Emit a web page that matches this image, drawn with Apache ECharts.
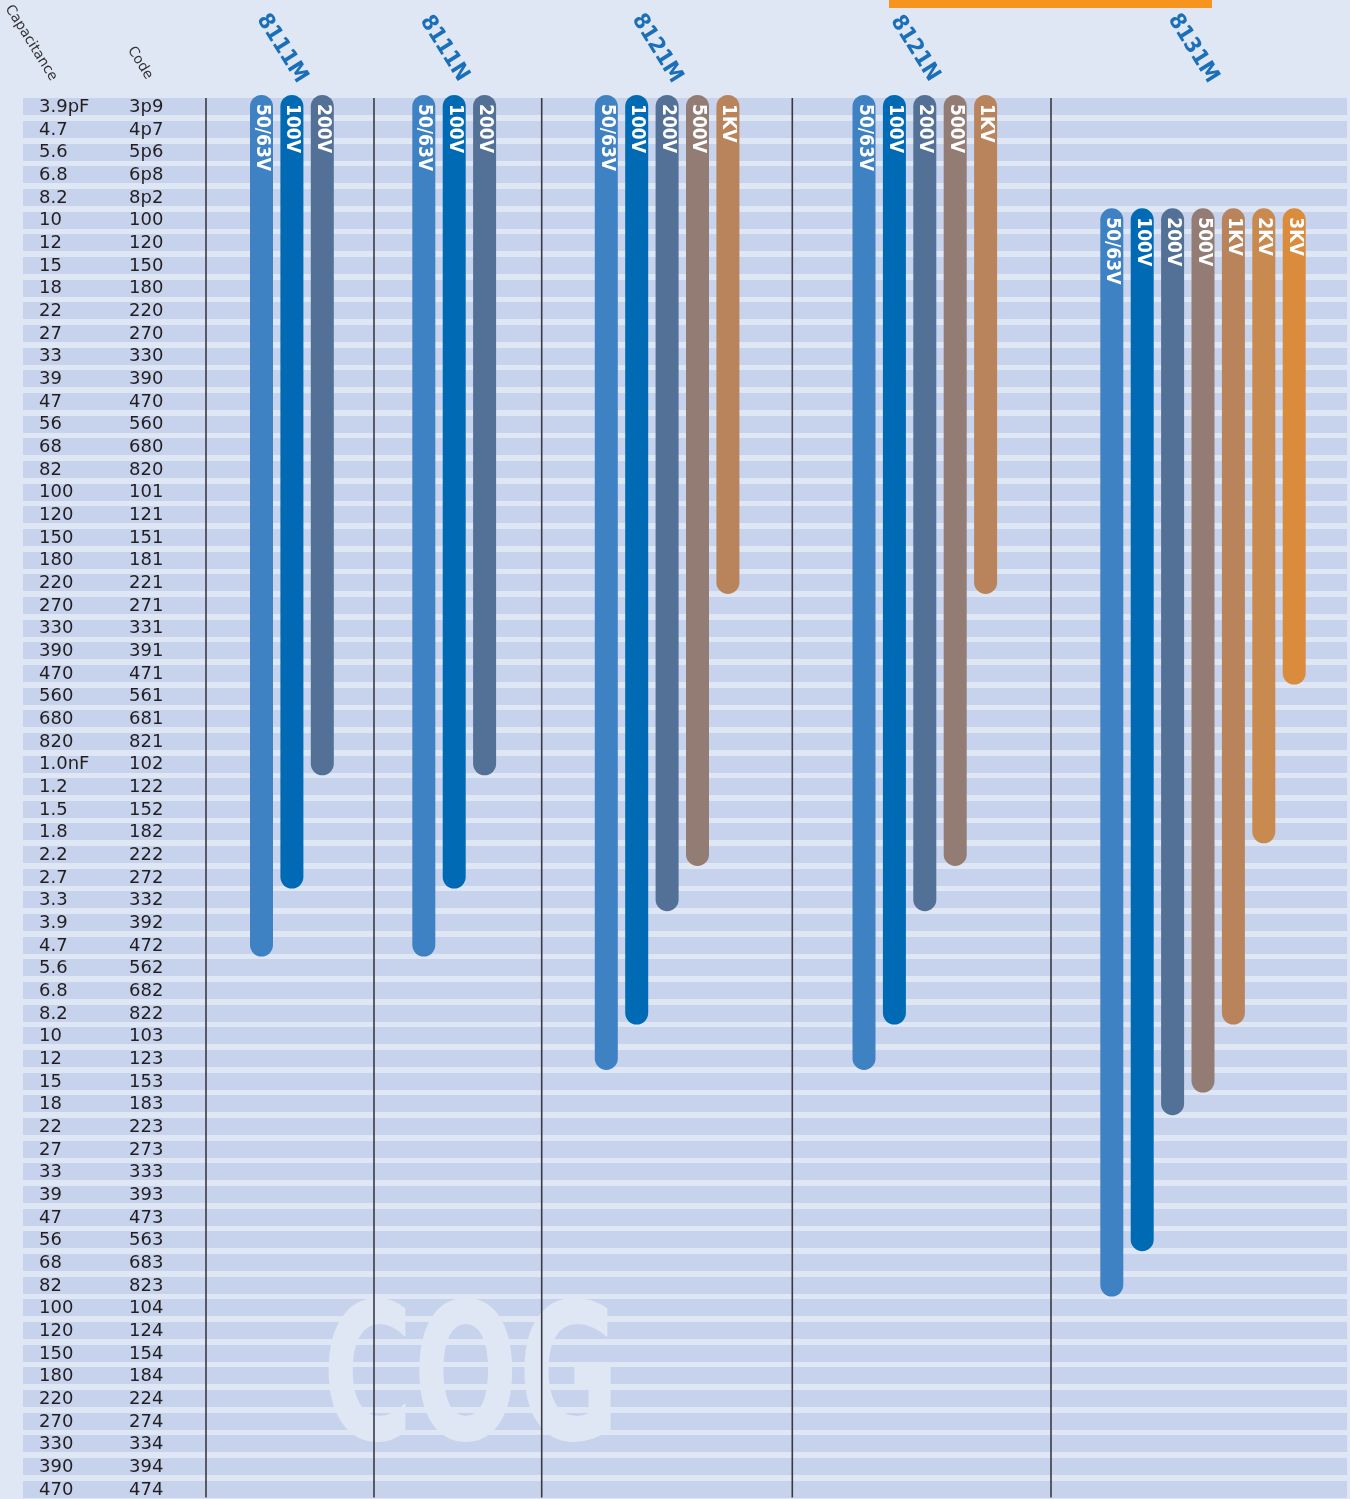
<!DOCTYPE html>
<html>
<head>
<meta charset="utf-8">
<script src="https://cdn.jsdelivr.net/npm/echarts@6/dist/echarts.min.js"></script>
<style>
  html, body { margin: 0; padding: 0; background: #dfe7f5; }
  #chart { width: 1350px; height: 1499px; }
</style>
</head>
<body>
<div id="chart"></div>
<script>
// rows (top to bottom)
const capacitance = ['3.9pF','4.7','5.6','6.8','8.2','10','12','15','18','22','27','33','39','47','56','68','82',
  '100','120','150','180','220','270','330','390','470','560','680','820',
  '1.0nF','1.2','1.5','1.8','2.2','2.7','3.3','3.9','4.7','5.6','6.8','8.2',
  '10','12','15','18','22','27','33','39','47','56','68','82',
  '100','120','150','180','220','270','330','390','470'];
const codes = ['3p9','4p7','5p6','6p8','8p2','100','120','150','180','220','270','330','390','470','560','680','820',
  '101','121','151','181','221','271','331','391','471','561','681','821',
  '102','122','152','182','222','272','332','392','472','562','682','822',
  '103','123','153','183','223','273','333','393','473','563','683','823',
  '104','124','154','184','224','274','334','394','474'];

// ranges per series: voltage, first code, last code
const groups = ['8111M', '8111N', '8121M', '8121N', '8131M'];
const volts8111M = ['50/63V', '100V', '200V'];
const from8111M = ['3p9', '3p9', '3p9'];
const to8111M = ['472', '272', '102'];
const volts8111N = ['50/63V', '100V', '200V'];
const from8111N = ['3p9', '3p9', '3p9'];
const to8111N = ['472', '272', '102'];
const volts8121M = ['50/63V', '100V', '200V', '500V', '1KV'];
const from8121M = ['3p9', '3p9', '3p9', '3p9', '3p9'];
const to8121M = ['123', '822', '332', '222', '221'];
const volts8121N = ['50/63V', '100V', '200V', '500V', '1KV'];
const from8121N = ['3p9', '3p9', '3p9', '3p9', '3p9'];
const to8121N = ['123', '822', '332', '222', '221'];
const volts8131M = ['50/63V', '100V', '200V', '500V', '1KV', '2KV', '3KV'];
const from8131M = ['100', '100', '100', '100', '100', '100', '100'];
const to8131M = ['823', '563', '183', '153', '822', '182', '471'];

const voltColors = {
  '50/63V': '#3f82c4', '100V': '#006bb4', '200V': '#537096', '500V': '#937c74',
  '1KV': '#b9845b', '2KV': '#c98a50', '3KV': '#db8b3c'
};

// layout (x axis runs in pixels across the grid)
const firstBarX = [238.5, 400.8, 583.3, 841, 1088.8];
const dividerX = [183, 351, 518.7, 769.3, 1028];
const barStep = 30.4;
const half = 11.5;

const volts = [volts8111M, volts8111N, volts8121M, volts8121N, volts8131M];
const froms = [from8111M, from8111N, from8121M, from8121N, from8131M];
const tos = [to8111M, to8111N, to8121M, to8121N, to8131M];

const barData = [], barLabel = [], barColor = [];
groups.forEach((g, gi) => {
  volts[gi].forEach((v, i) => {
    barData.push([firstBarX[gi] + i * barStep, codes.indexOf(froms[gi][i]), codes.indexOf(tos[gi][i])]);
    barLabel.push(v);
    barColor.push(voltColors[v]);
  });
});
const groupData = groups.map((g, gi) => [firstBarX[gi] + (volts[gi].length - 1) * barStep / 2, dividerX[gi]]);

const chart = echarts.init(document.getElementById('chart'));
const last = capacitance.length - 1;

const option = {
  backgroundColor: '#dfe7f5',
  animation: false,
  grid: { left: 23, right: 3, top: 106.5, bottom: 10 },
  xAxis: { type: 'value', min: 0, max: 1324, show: false },
  yAxis: {
    type: 'category',
    data: capacitance,
    inverse: true,
    boundaryGap: false,
    axisLine: { show: false },
    axisTick: { show: false },
    splitLine: { show: true, interval: 0, lineStyle: { color: '#c7d3ec', width: 17 } },
    axisLabel: {
      inside: true,
      margin: 16,
      interval: 0,
      formatter: (v, i) => '{a|' + v + '}{b|' + codes[i] + '}',
      rich: {
        a: { width: 90, fontSize: 18, fontFamily: 'DejaVu Sans', color: '#231f20', padding: [2, 0, 0, 0] },
        b: { fontSize: 18, fontFamily: 'DejaVu Sans', color: '#231f20', padding: [2, 0, 0, 0] }
      }
    }
  },
  graphic: [
    { type: 'rect', z: 5, shape: { x: 889, y: 0, width: 323, height: 8 }, style: { fill: '#f7941d' } },
    { type: 'text', z: 5, x: 31, y: 43, rotation: -58 * Math.PI / 180,
      style: { text: 'Capacitance', font: '14px "DejaVu Sans"', fill: '#333', align: 'center', verticalAlign: 'middle' } },
    { type: 'text', z: 5, x: 140, y: 63, rotation: -58 * Math.PI / 180,
      style: { text: 'Code', font: '14px "DejaVu Sans"', fill: '#333', align: 'center', verticalAlign: 'middle' } },
    { type: 'text', z: 1, x: 471, y: 1390, scaleX: 0.65,
      style: { text: 'COG', font: 'bold 190px "DejaVu Sans"', fill: '#dfe7f5', align: 'center', verticalAlign: 'middle' } }
  ],
  series: [
    {
      type: 'custom',
      z: 3,
      data: groupData,
      encode: { x: [0, 1] },
      renderItem: function (params, api) {
        const top = api.coord([api.value(1), 0]);
        const bot = api.coord([api.value(1), last]);
        const t = api.coord([api.value(0) - 10, 0]);
        return {
          type: 'group',
          children: [
            { type: 'line', shape: { x1: top[0], y1: top[1] - 8.5, x2: bot[0], y2: bot[1] + 8.5 },
              style: { stroke: '#3a3a44', lineWidth: 1.6 } },
            { type: 'text', x: t[0], y: t[1] - 58, rotation: -58 * Math.PI / 180, scaleX: 0.92,
              style: { text: groups[params.dataIndex], font: 'bold 22px "DejaVu Sans"', fill: '#1a6fb8',
                align: 'center', verticalAlign: 'middle' } }
          ]
        };
      }
    },
    {
      type: 'custom',
      z: 4,
      data: barData,
      encode: { x: 0, y: [1, 2] },
      renderItem: function (params, api) {
        const top = api.coord([api.value(0), api.value(1)]);
        const bot = api.coord([api.value(0), api.value(2)]);
        return {
          type: 'group',
          children: [
            { type: 'rect',
              shape: { x: top[0] - half, y: top[1] - half, width: half * 2, height: bot[1] - top[1] + half * 2, r: half },
              style: { fill: barColor[params.dataIndex] } },
            { type: 'text', x: top[0] + 0.5, y: top[1] - half + 9, rotation: -Math.PI / 2, scaleX: 0.9,
              style: { text: barLabel[params.dataIndex], font: 'bold 19px "DejaVu Sans"', fill: '#ffffff',
                align: 'left', verticalAlign: 'middle' } }
          ]
        };
      }
    }
  ]
};

chart.setOption(option);
</script>
</body>
</html>
